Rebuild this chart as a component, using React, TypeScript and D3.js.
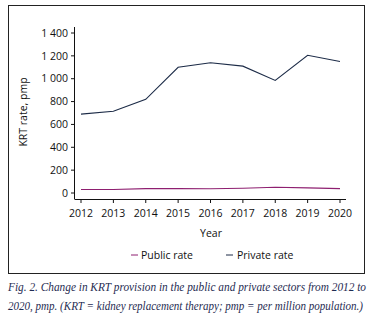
import React from "react";
import * as d3 from "d3";

const years = [2012, 2013, 2014, 2015, 2016, 2017, 2018, 2019, 2020];
const privateRate = [690, 715, 820, 1100, 1140, 1110, 985, 1205, 1150];
const publicRate = [30, 30, 38, 38, 37, 42, 50, 45, 38];
const yTicks = [0, 200, 400, 600, 800, 1000, 1200, 1400];
const captionLines = [
  "Fig. 2. Change in KRT provision in the public and private sectors from 2012 to",
  "2020, pmp. (KRT = kidney replacement therapy; pmp = per million population.)",
];

const fmt = (v: number) => {
  const s = String(v);
  return s.length > 3 ? s.slice(0, s.length - 3) + " " + s.slice(-3) : s;
};

export default function App() {
  const W = 378, H = 316;
  const x = d3.scaleLinear().domain([2012, 2020]).range([81, 340]);
  const y = d3.scaleLinear().domain([0, 1400]).range([193, 33]);
  const line = d3
    .line<number>()
    .x((_, i) => x(years[i]))
    .y((d) => y(d));
  const font = "'Open Sans', 'Noto Sans', sans-serif";
  const pubColor = "#8e1f70";
  const privColor = "#1c2b47";
  return (
    <svg
      width={W}
      height={H}
      style={{ position: "absolute", left: 0, top: 0 }}
      fontFamily={font}
    >
      <rect x={0} y={0} width={W} height={H} fill="#fff" />
      <rect x={8.5} y={5.5} width={356} height={268} fill="none" stroke="#222" strokeWidth={1} />
      <line x1={74.5} x2={74.5} y1={27} y2={199} stroke="#111" strokeWidth={1} />
      {yTicks.map((t) => (
        <g key={t}>
          <line x1={71} x2={74.5} y1={y(t)} y2={y(t)} stroke="#111" />
          <text x={68} y={y(t)} dy="0.35em" textAnchor="end" fontSize={10.5} fill="#111">
            {fmt(t)}
          </text>
        </g>
      ))}
      <line x1={74.5} x2={346} y1={199.5} y2={199.5} stroke="#111" strokeWidth={1} />
      {years.map((yr) => (
        <g key={yr}>
          <line x1={x(yr)} x2={x(yr)} y1={199.5} y2={203} stroke="#111" />
          <text x={x(yr)} y={213} dy="0.35em" textAnchor="middle" fontSize={10.5} fill="#111">
            {yr}
          </text>
        </g>
      ))}
      <text x={211} y={233} dy="0.35em" textAnchor="middle" fontSize={10.5} fill="#111">
        Year
      </text>
      <text
        transform="translate(23,112) rotate(-90)"
        textAnchor="middle"
        dy="0.35em"
        fontSize={10.5}
        fill="#111"
      >
        KRT rate, pmp
      </text>
      <path d={line(privateRate) || ""} fill="none" stroke={privColor} strokeWidth={1.1} />
      <path d={line(publicRate) || ""} fill="none" stroke={pubColor} strokeWidth={1.1} />
      <line x1={131} x2={138} y1={255} y2={255} stroke={pubColor} strokeWidth={1} />
      <text x={141} y={255} dy="0.35em" fontSize={10.5} fill="#111">Public rate</text>
      <line x1={226} x2={233} y1={255} y2={255} stroke={privColor} strokeWidth={1} />
      <text x={237} y={255} dy="0.35em" fontSize={10.5} fill="#111">Private rate</text>
      {captionLines.map((l, i) => (
        <text
          key={i}
          x={8}
          y={287 + i * 18.5}
          dy="0.35em"
          fontFamily="'Liberation Serif', serif"
          fontStyle="italic"
          fontSize={11.5}
          fill="#1f2c52"
          textLength={i === 0 ? 358 : 355}
          lengthAdjust="spacingAndGlyphs"
        >
          {l}
        </text>
      ))}
    </svg>
  );
}
